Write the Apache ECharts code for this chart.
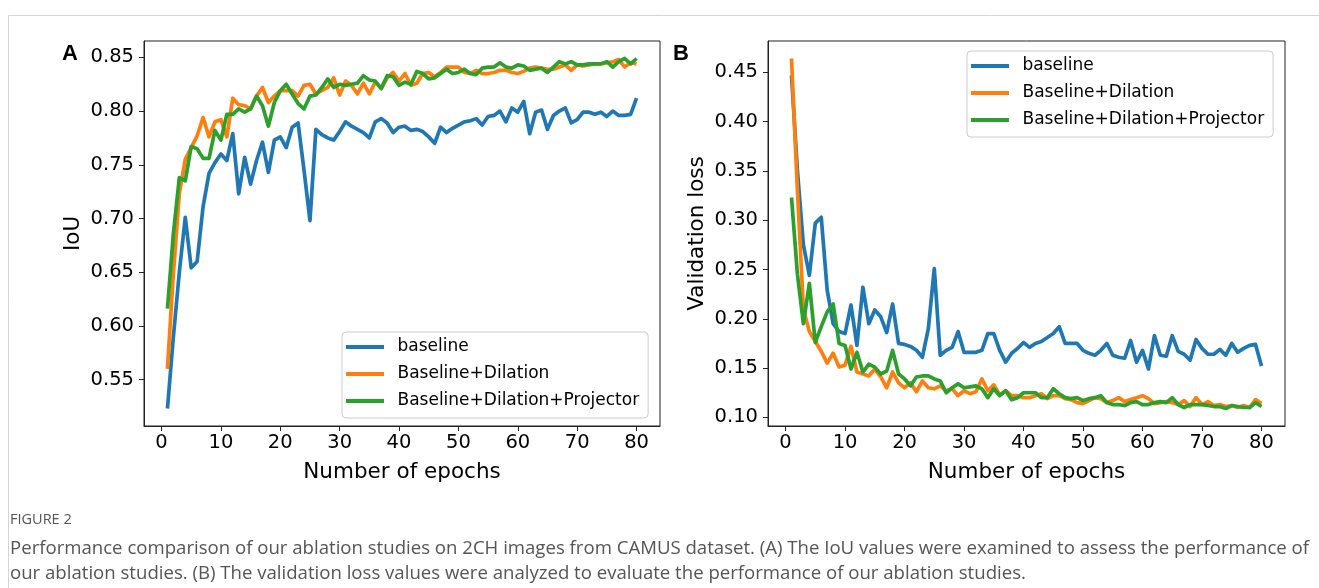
<!DOCTYPE html>
<html><head><meta charset="utf-8">
<script src="https://cdn.jsdelivr.net/npm/echarts@6/dist/echarts.min.js"></script>
<style>html,body{margin:0;padding:0;background:#fff}#c{width:1319px;height:588px}</style>
</head><body><div id="c"></div>
<script>
const epochs = [1,2,3,4,5,6,7,8,9,10,11,12,13,14,15,16,17,18,19,20,21,22,23,24,25,26,27,28,29,30,31,32,33,34,35,36,37,38,39,40,41,42,43,44,45,46,47,48,49,50,51,52,53,54,55,56,57,58,59,60,61,62,63,64,65,66,67,68,69,70,71,72,73,74,75,76,77,78,79,80];

const iouBaseline = [0.523,0.590,0.650,0.701,0.654,0.660,0.711,0.742,0.752,0.760,0.754,0.779,0.723,0.757,0.732,0.754,0.771,0.743,0.773,0.776,0.766,0.785,0.789,0.745,0.698,0.783,0.778,0.775,0.773,0.781,0.790,0.786,0.783,0.780,0.775,0.790,0.793,0.789,0.780,0.785,0.786,0.782,0.783,0.781,0.776,0.770,0.785,0.780,0.784,0.787,0.790,0.791,0.793,0.787,0.795,0.796,0.800,0.790,0.803,0.799,0.809,0.779,0.799,0.801,0.783,0.796,0.800,0.803,0.789,0.792,0.799,0.799,0.797,0.799,0.795,0.800,0.796,0.796,0.797,0.812];
const iouDilation = [0.560,0.649,0.723,0.755,0.766,0.777,0.794,0.776,0.790,0.792,0.776,0.812,0.806,0.805,0.802,0.814,0.822,0.808,0.814,0.819,0.819,0.819,0.814,0.824,0.825,0.816,0.819,0.822,0.831,0.815,0.828,0.824,0.816,0.826,0.816,0.827,0.821,0.831,0.836,0.828,0.835,0.824,0.826,0.835,0.836,0.832,0.836,0.841,0.841,0.841,0.836,0.835,0.838,0.835,0.835,0.836,0.838,0.838,0.836,0.835,0.837,0.840,0.841,0.840,0.839,0.839,0.841,0.843,0.838,0.843,0.842,0.843,0.844,0.844,0.845,0.846,0.848,0.841,0.845,0.844];
const iouProjector = [0.616,0.686,0.738,0.735,0.767,0.765,0.756,0.756,0.782,0.773,0.797,0.797,0.802,0.799,0.802,0.814,0.805,0.786,0.808,0.819,0.825,0.816,0.807,0.802,0.814,0.815,0.822,0.830,0.822,0.825,0.824,0.825,0.826,0.833,0.829,0.828,0.821,0.833,0.832,0.824,0.827,0.825,0.837,0.835,0.830,0.831,0.835,0.839,0.835,0.836,0.839,0.835,0.834,0.840,0.841,0.841,0.845,0.841,0.840,0.843,0.842,0.838,0.839,0.840,0.836,0.841,0.846,0.844,0.846,0.843,0.843,0.844,0.844,0.844,0.846,0.841,0.846,0.849,0.844,0.849];

const lossBaseline = [0.447,0.350,0.275,0.244,0.297,0.303,0.229,0.195,0.187,0.185,0.214,0.173,0.232,0.195,0.209,0.202,0.186,0.215,0.175,0.174,0.172,0.168,0.161,0.190,0.251,0.163,0.168,0.171,0.187,0.166,0.166,0.166,0.168,0.185,0.185,0.168,0.156,0.165,0.170,0.176,0.171,0.175,0.177,0.181,0.185,0.192,0.175,0.175,0.175,0.168,0.165,0.163,0.168,0.175,0.163,0.161,0.160,0.178,0.156,0.168,0.149,0.183,0.163,0.162,0.183,0.167,0.164,0.158,0.179,0.170,0.164,0.164,0.169,0.163,0.175,0.166,0.170,0.173,0.174,0.152];
const lossDilation = [0.464,0.330,0.210,0.187,0.177,0.167,0.155,0.165,0.151,0.153,0.172,0.146,0.144,0.142,0.149,0.141,0.130,0.146,0.135,0.130,0.135,0.126,0.137,0.130,0.129,0.132,0.127,0.129,0.122,0.127,0.124,0.126,0.139,0.127,0.133,0.123,0.127,0.122,0.122,0.120,0.120,0.122,0.124,0.119,0.122,0.122,0.119,0.118,0.115,0.114,0.117,0.120,0.119,0.115,0.117,0.120,0.116,0.118,0.120,0.122,0.119,0.114,0.115,0.116,0.115,0.113,0.117,0.111,0.120,0.113,0.116,0.112,0.113,0.111,0.112,0.110,0.112,0.110,0.118,0.114];
const lossProjector = [0.323,0.245,0.195,0.236,0.176,0.192,0.207,0.215,0.175,0.173,0.149,0.166,0.146,0.154,0.151,0.144,0.147,0.168,0.144,0.139,0.132,0.141,0.142,0.142,0.139,0.137,0.125,0.130,0.134,0.130,0.131,0.132,0.129,0.120,0.129,0.122,0.127,0.118,0.120,0.125,0.125,0.125,0.120,0.120,0.129,0.124,0.120,0.119,0.120,0.117,0.119,0.120,0.122,0.115,0.113,0.113,0.112,0.115,0.116,0.113,0.113,0.115,0.116,0.115,0.120,0.113,0.110,0.113,0.113,0.113,0.112,0.111,0.111,0.109,0.112,0.111,0.110,0.110,0.115,0.111];

const xTicks = [0,10,20,30,40,50,60,70,80];
const iouTicks = [0.55,0.60,0.65,0.70,0.75,0.80,0.85];
const lossTicks = [0.10,0.15,0.20,0.25,0.30,0.35,0.40,0.45];
const seriesNames = ['baseline','Baseline+Dilation','Baseline+Dilation+Projector'];
const colors = ['#1f77b4','#ff7f0e','#2ca02c'];
const captionHead = 'FIGURE 2';
const captionLine1 = 'Performance comparison of our ablation studies on 2CH images from CAMUS dataset. (A) The IoU values were examined to assess the performance of';
const captionLine2 = 'our ablation studies. (B) The validation loss values were analyzed to evaluate the performance of our ablation studies.';

function padRange(list){
  let mn=Infinity,mx=-Infinity;
  list.forEach(a=>a.forEach(v=>{if(v<mn)mn=v;if(v>mx)mx=v;}));
  const r=mx-mn; return [mn-0.05*r, mx+0.05*r];
}
const xr = [epochs[0]-0.05*(epochs[79]-epochs[0]), epochs[79]+0.05*(epochs[79]-epochs[0])];
const iouR = padRange([iouBaseline,iouDilation,iouProjector]);
const lossR = padRange([lossBaseline,lossDilation,lossProjector]);

const FONT = 'DejaVu Sans';
const TICKFS = 19.5;
function xAxisDef(gi){
  return {type:'value', gridIndex:gi, min:xr[0], max:xr[1],
    name:'Number of epochs', nameLocation:'middle', nameGap:35,
    nameTextStyle:{fontFamily:FONT,fontSize:21.5,color:'#000'},
    axisLine:{show:true,onZero:false,lineStyle:{color:'#222',width:1}},
    axisTick:{show:true,length:5,lineStyle:{color:'#222'},customValues:xTicks},
    axisLabel:{fontFamily:FONT,fontSize:TICKFS,color:'#000',margin:7,customValues:xTicks,formatter:v=>String(Math.round(v))},
    splitLine:{show:false}};
}
function yAxisDef(gi,r,ticks,name,gap){
  return {type:'value', gridIndex:gi, min:r[0], max:r[1],
    name:name, nameLocation:'middle', nameGap:gap,
    nameTextStyle:{fontFamily:FONT,fontSize:21.5,color:'#000'},
    axisLine:{show:true,onZero:false,lineStyle:{color:'#222',width:1}},
    axisTick:{show:true,length:5,lineStyle:{color:'#222'},customValues:ticks},
    axisLabel:{fontFamily:FONT,fontSize:TICKFS,color:'#000',margin:10,customValues:ticks,formatter:v=>v.toFixed(2)},
    splitLine:{show:false}};
}
function mk(arr,i,gi){
  return {type:'line', name:seriesNames[i], xAxisIndex:gi, yAxisIndex:gi,
    data: epochs.map((e,k)=>[e,arr[k]]), symbol:'none', showSymbol:false,
    lineStyle:{color:colors[i],width:3.7,join:'round'}, itemStyle:{color:colors[i]}, z:2+i, animation:false};
}
function legendDef(left,top){
  return {data:seriesNames.map(n=>({name:n,icon:'rect'})), left:left, top:top, orient:'vertical', itemWidth:38, itemHeight:4, itemGap:7,
    padding:[5,9,7,4], backgroundColor:'rgba(255,255,255,0.8)', borderColor:'#cccccc', borderWidth:1, borderRadius:4,
    selectedMode:false, textStyle:{fontFamily:FONT,fontSize:17,color:'#000',lineHeight:20}, formatter:n=>'\u2002'+n};
}

const chart = echarts.init(document.getElementById('c'), null, {renderer:'canvas'});
chart.setOption({
  backgroundColor:'#ffffff',
  animation:false,
  grid:[
    {left:144, top:41, width:516, height:385, show:true, borderColor:'#222', borderWidth:1, containLabel:false},
    {left:768, top:41, width:517, height:385, show:true, borderColor:'#222', borderWidth:1, containLabel:false}
  ],
  xAxis:[xAxisDef(0), xAxisDef(1)],
  yAxis:[yAxisDef(0,iouR,iouTicks,'IoU',60), yAxisDef(1,lossR,lossTicks,'Validation loss',60)],
  legend:[legendDef(342,332), legendDef(967,51)],
  series:[
    mk(iouBaseline,0,0), mk(iouDilation,1,0), mk(iouProjector,2,0),
    mk(lossBaseline,0,1), mk(lossDilation,1,1), mk(lossProjector,2,1)
  ],
  graphic:[
    {type:'line', shape:{x1:8.5,y1:15.5,x2:1319,y2:15.5}, style:{stroke:'#d4d4d4',lineWidth:1}, silent:true},
    {type:'line', shape:{x1:8.5,y1:15.5,x2:8.5,y2:588}, style:{stroke:'#d4d4d4',lineWidth:1}, silent:true},
    {type:'text', left:62, top:43, style:{text:'A', font:'bold 22px "Liberation Sans"', fill:'#000'}},
    {type:'text', left:673, top:43, style:{text:'B', font:'bold 22px "Liberation Sans"', fill:'#000'}},
    {type:'text', left:10, top:512, style:{text:captionHead, font:'14.5px "Open Sans"', fill:'#555'}},
    {type:'text', left:10, top:539, style:{text:captionLine1, font:'18.6px "Open Sans"', fill:'#555'}},
    {type:'text', left:10, top:564, style:{text:captionLine2, font:'18.6px "Open Sans"', fill:'#555'}}
  ]
});
</script></body></html>
